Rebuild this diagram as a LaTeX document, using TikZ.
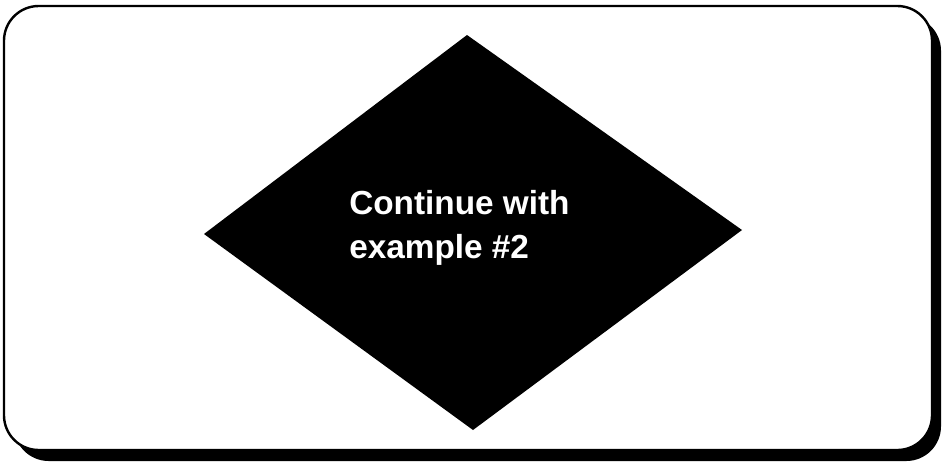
\documentclass[tikz,border=0pt]{standalone}
\usepackage{fontspec}
\setmainfont{Liberation Sans}
\begin{document}
\begin{tikzpicture}[x=0.75pt,y=-0.75pt,
  frame/.style={draw=black,line width=1.8pt,fill=white,rounded corners=26pt},
  shadowbox/.style={fill=black,rounded corners=26pt},
  label/.style={text=white,font=\bfseries\fontsize{25pt}{32.3pt}\selectfont,align=left,inner sep=0pt}]
\useasboundingbox (0,0) rectangle (949,465);
\fill[shadowbox] (14,16) rectangle (941,461);
\draw[frame] (4,6) rectangle (932,450);
\coordinate (top) at (467,35);
\coordinate (left) at (204,234);
\coordinate (right) at (742,230);
\coordinate (bottom) at (473,430);
\fill[black] (top) -- (right) -- (bottom) -- (left) -- cycle;
\node[label,anchor=base west] (txt) at (349,258) {Continue with\\example \#2};
\end{tikzpicture}
\end{document}
